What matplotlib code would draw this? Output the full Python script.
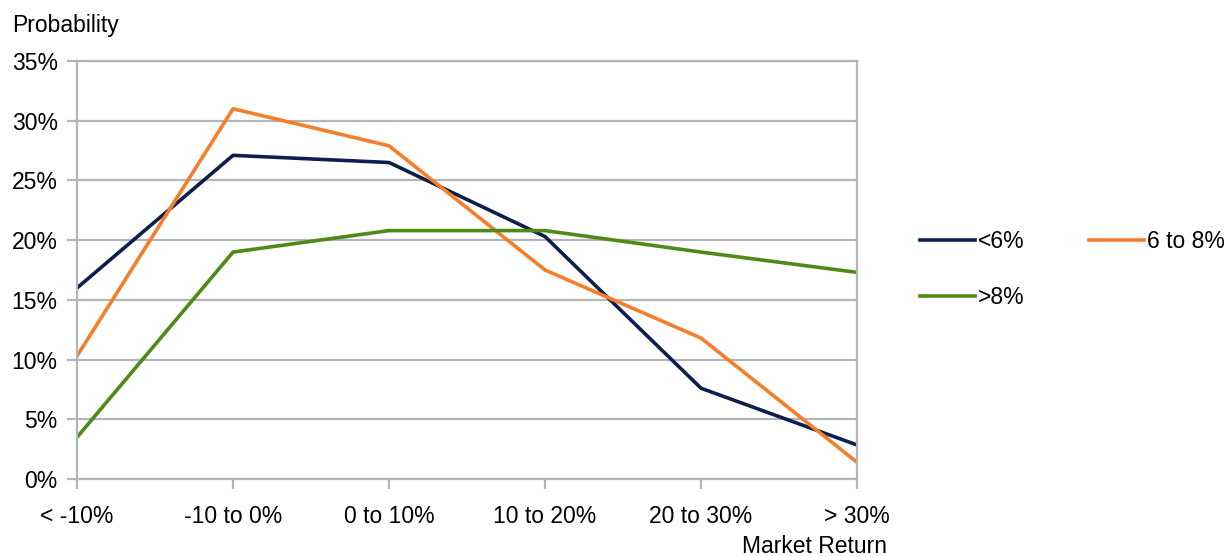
import matplotlib.pyplot as plt
from matplotlib.ticker import PercentFormatter

plt.rcParams['font.family'] = ['Liberation Sans', 'DejaVu Sans']

returns = ['< -10%', '-10 to 0%', '0 to 10%', '10 to 20%', '20 to 30%', '> 30%']
below_6 = [16.0, 27.1, 26.5, 20.3, 7.6, 2.85]
six_to_8 = [10.3, 31.0, 27.9, 17.5, 11.8, 1.4]
above_8 = [3.5, 19.0, 20.8, 20.8, 19.0, 17.3]

grid_col = '#b3b6b9'
fs = 16.5

fig = plt.figure(figsize=(12.27, 5.57), dpi=100)
ax = fig.add_axes([0.0628, 0.140, 0.6357, 0.7505])

x = range(len(returns))
l1, = ax.plot(x, below_6, color='#0c1f4d', lw=2.6, label='<6%')
l2, = ax.plot(x, six_to_8, color='#f47e2a', lw=2.6, label='6 to 8%')
l3, = ax.plot(x, above_8, color='#4e8a16', lw=2.6, label='>8%')

ax.set_xlim(0, len(returns) - 1)
ax.set_ylim(0, 35)
ax.set_yticks(range(0, 36, 5))
ax.yaxis.set_major_formatter(PercentFormatter(decimals=0))
ax.set_xticks(list(x))
ax.set_xticklabels(returns)
ax.grid(axis='y', color=grid_col, lw=1.6)
ax.set_axisbelow(True)
for side in ax.spines.values():
    side.set_color(grid_col)
    side.set_linewidth(1.6)
ax.tick_params(axis='both', colors=grid_col, labelcolor='black', labelsize=fs,
               width=1.6, length=7)
ax.tick_params(axis='x', pad=12)
ax.tick_params(axis='y', pad=7)

fig.text(0.010, 0.955, 'Probability', fontsize=fs, va='center', ha='left')
fig.text(0.723, 0.018, 'Market Return', fontsize=fs, va='center', ha='right')

# order handles so the legend reads row-wise
fig.legend([l1, l3, l2], ['<6%', '>8%', '6 to 8%'], ncol=2, frameon=False,
           fontsize=fs, loc='upper left', bbox_to_anchor=(0.7498, 0.587),
           handlelength=2.4, handletextpad=0.13, columnspacing=2.8,
           labelspacing=1.43, borderpad=0, borderaxespad=0)

fig.savefig('out.png', dpi=100)
